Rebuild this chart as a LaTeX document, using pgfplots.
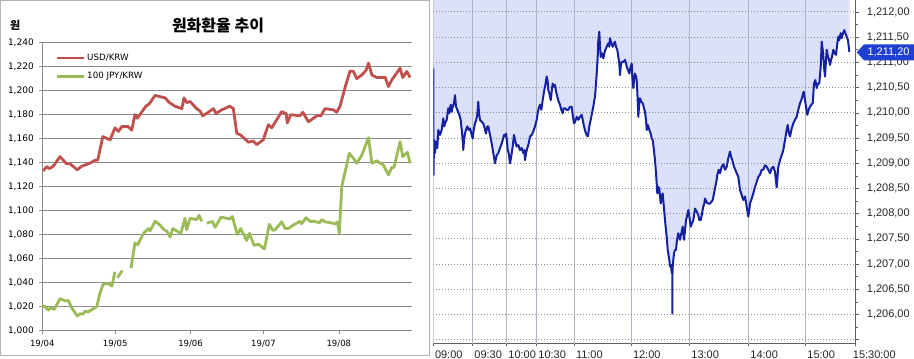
\documentclass[border=0pt]{standalone}
\usepackage{pgfplots}
\usepackage{pgfplotstable}
\pgfplotsset{compat=1.18}
\usepgfplotslibrary{fillbetween}
\usepackage{fontspec}
\setmainfont{Liberation Sans}
\newfontfamily\dv{DejaVu Sans}
\newfontfamily\kr{Noto Sans CJK KR}
\definecolor{usd}{HTML}{C0504D}
\definecolor{jpy}{HTML}{9BBB59}
\definecolor{lav}{HTML}{DCE0F8}
\definecolor{navy}{HTML}{1421A0}
\definecolor{vgrid}{HTML}{AEB6C4}
\definecolor{tagblue}{HTML}{1F3FD0}
\definecolor{lgrid}{HTML}{8A8A8A}
\definecolor{dgrid}{HTML}{8C8C8C}
\pgfplotstableread[row sep=\\]{
x y\\
0.0 1210.88\\ 0.2 1208.77\\ 0.7 1209.46\\ 1.7 1209.2\\ 2.7 1209.43\\ 4.0 1209.30\\ 5.0 1209.66\\ 6.7 1209.56\\ 8.4 1209.66\\ 10.0 1209.89\\ 11.0 1209.73\\ 11.7 1209.79\\ 13.4 1209.86\\ 15.0 1210.09\\ 16.0 1209.99\\ 17.4 1210.16\\ 18.4 1210.02\\ 19.4 1210.12\\ 20.7 1210.19\\ 21.7 1210.35\\ 22.7 1210.12\\ 23.4 1210.09\\ 24.7 1210.02\\ 26.0 1209.96\\ 27.4 1209.86\\ 28.4 1209.66\\ 29.4 1209.46\\ 30.0 1209.26\\ 30.7 1209.46\\ 31.7 1209.59\\ 32.7 1209.66\\ 34.0 1209.73\\ 35.4 1209.66\\ 36.7 1209.69\\ 38.0 1209.59\\ 39.4 1209.49\\ 40.4 1209.66\\ 41.7 1209.79\\ 43.0 1209.86\\ 44.0 1209.96\\ 45.0 1210.22\\ 45.7 1209.99\\ 46.7 1209.86\\ 48.4 1209.82\\ 50.0 1209.79\\ 51.4 1209.69\\ 52.7 1209.59\\ 54.0 1209.73\\ 55.0 1209.73\\ 56.7 1209.56\\ 58.4 1209.39\\ 60.0 1209.20\\ 61.7 1209.00\\ 63.4 1209.16\\ 65.0 1209.20\\ 66.7 1209.30\\ 68.4 1209.39\\ 69.4 1209.46\\ 70.7 1209.56\\ 71.7 1209.53\\ 72.7 1209.59\\ 73.7 1209.43\\ 74.4 1209.26\\ 75.4 1209.20\\ 76.7 1209.00\\ 77.7 1209.10\\ 78.4 1209.20\\ 79.4 1209.33\\ 80.7 1209.56\\ 82.0 1209.43\\ 83.4 1209.33\\ 85.0 1209.36\\ 86.7 1209.26\\ 88.4 1209.30\\ 90.0 1209.20\\ 91.0 1209.26\\ 91.7 1209.06\\ 92.7 1209.20\\ 94.0 1209.30\\ 95.4 1209.39\\ 96.7 1209.53\\ 98.4 1209.56\\ 100.0 1209.63\\ 101.7 1209.73\\ 103.4 1209.86\\ 104.4 1209.99\\ 105.4 1210.09\\ 106.7 1210.16\\ 108.0 1210.06\\ 109.4 1210.25\\ 110.7 1210.42\\ 112.0 1210.55\\ 113.4 1210.72\\ 114.4 1210.62\\ 115.0 1210.45\\ 116.0 1210.39\\ 117.4 1210.25\\ 118.4 1210.42\\ 119.4 1210.58\\ 120.7 1210.52\\ 121.7 1210.55\\ 122.7 1210.42\\ 124.0 1210.32\\ 125.4 1210.22\\ 126.7 1210.16\\ 128.0 1210.06\\ 129.4 1209.99\\ 130.4 1210.09\\ 131.7 1210.09\\ 133.4 1210.06\\ 135.0 1210.06\\ 136.7 1210.12\\ 138.4 1210.12\\ 139.4 1209.96\\ 140.7 1209.79\\ 141.7 1209.82\\ 143.4 1209.92\\ 145.0 1209.86\\ 146.7 1209.92\\ 148.4 1209.96\\ 149.4 1209.86\\ 150.7 1209.73\\ 152.0 1209.63\\ 153.4 1209.56\\ 154.4 1209.53\\ 155.0 1209.59\\ 156.0 1209.73\\ 157.4 1209.86\\ 158.7 1209.99\\ 160.0 1210.12\\ 161.0 1210.25\\ 161.7 1210.32\\ 162.7 1210.58\\ 163.4 1210.78\\ 164.4 1211.11\\ 165.0 1211.44\\ 166.0 1211.61\\ 166.7 1211.31\\ 167.4 1211.11\\ 168.7 1211.18\\ 170.0 1211.08\\ 171.4 1211.21\\ 172.7 1211.28\\ 174.0 1211.34\\ 175.0 1211.38\\ 176.0 1211.31\\ 176.7 1211.48\\ 178.0 1211.38\\ 179.4 1211.31\\ 180.7 1211.38\\ 181.7 1211.41\\ 182.7 1211.31\\ 184.0 1211.25\\ 185.0 1211.11\\ 186.0 1210.98\\ 186.7 1210.75\\ 187.4 1210.92\\ 188.4 1211.01\\ 190.0 1211.01\\ 191.7 1211.05\\ 192.7 1210.98\\ 193.4 1210.92\\ 194.7 1210.85\\ 196.0 1210.78\\ 197.0 1210.88\\ 198.4 1210.98\\ 199.0 1210.72\\ 200.0 1210.49\\ 201.0 1210.68\\ 201.7 1210.78\\ 202.7 1210.72\\ 203.4 1210.65\\ 204.4 1210.25\\ 205.0 1209.92\\ 205.7 1210.12\\ 206.7 1210.29\\ 208.0 1210.22\\ 209.4 1210.19\\ 210.7 1210.09\\ 211.7 1210.02\\ 212.7 1209.86\\ 213.4 1209.66\\ 214.4 1209.76\\ 215.0 1209.73\\ 216.0 1209.66\\ 217.4 1209.59\\ 218.4 1209.49\\ 219.4 1209.46\\ 220.4 1209.30\\ 221.7 1209.06\\ 222.7 1208.80\\ 223.4 1208.60\\ 224.0 1208.40\\ 225.0 1208.53\\ 226.0 1208.50\\ 226.7 1208.34\\ 227.4 1208.20\\ 228.4 1208.34\\ 229.4 1208.40\\ 230.4 1208.17\\ 231.7 1207.87\\ 232.7 1207.67\\ 233.4 1207.54\\ 234.4 1207.28\\ 235.0 1207.21\\ 236.0 1207.08\\ 236.7 1206.95\\ 237.7 1206.98\\ 238.4 1206.82\\ 239.0 1206.82\\ 239.1 1206.02\\ 239.2 1206.90\\ 240.0 1207.08\\ 240.7 1207.21\\ 241.7 1207.28\\ 242.7 1207.28\\ 243.7 1207.48\\ 245.0 1207.61\\ 246.0 1207.54\\ 246.7 1207.48\\ 248.0 1207.61\\ 249.4 1207.74\\ 250.0 1207.61\\ 250.7 1207.48\\ 251.7 1207.67\\ 252.7 1207.87\\ 254.0 1207.97\\ 255.0 1208.07\\ 256.0 1207.94\\ 257.4 1207.74\\ 258.7 1207.81\\ 260.0 1207.87\\ 261.0 1208.00\\ 261.7 1208.10\\ 263.4 1208.04\\ 265.0 1207.97\\ 266.0 1207.87\\ 267.4 1207.87\\ 268.7 1208.00\\ 270.0 1208.14\\ 271.0 1208.20\\ 271.7 1208.30\\ 273.4 1208.22\\ 275.0 1208.20\\ 276.7 1208.20\\ 278.4 1208.24\\ 279.4 1208.27\\ 280.7 1208.40\\ 282.0 1208.53\\ 283.4 1208.67\\ 284.0 1208.77\\ 285.4 1208.87\\ 286.7 1208.80\\ 288.4 1208.93\\ 290.0 1208.98\\ 291.7 1208.87\\ 293.4 1208.93\\ 295.0 1209.10\\ 296.7 1209.23\\ 297.7 1209.13\\ 299.0 1209.06\\ 300.7 1208.93\\ 302.0 1208.87\\ 303.4 1208.80\\ 305.0 1208.73\\ 306.7 1208.47\\ 308.4 1208.37\\ 310.0 1208.27\\ 311.7 1208.34\\ 313.4 1208.14\\ 315.0 1207.94\\ 316.0 1208.07\\ 316.7 1208.20\\ 318.4 1208.30\\ 320.0 1208.40\\ 321.7 1208.53\\ 323.4 1208.63\\ 325.0 1208.73\\ 326.7 1208.77\\ 328.4 1208.87\\ 330.0 1208.87\\ 331.7 1208.96\\ 333.4 1208.93\\ 335.0 1208.87\\ 336.7 1208.80\\ 338.4 1208.90\\ 340.0 1208.93\\ 341.7 1208.83\\ 343.4 1208.52\\ 345.0 1208.93\\ 346.7 1209.06\\ 348.4 1209.16\\ 350.0 1209.26\\ 351.7 1209.46\\ 353.4 1209.66\\ 354.4 1209.76\\ 355.7 1209.59\\ 356.7 1209.53\\ 358.4 1209.69\\ 360.0 1209.79\\ 361.7 1209.86\\ 363.4 1209.92\\ 365.0 1210.06\\ 366.7 1210.19\\ 368.0 1210.25\\ 369.4 1210.35\\ 370.4 1210.42\\ 371.7 1210.25\\ 372.7 1210.12\\ 374.0 1209.96\\ 375.4 1210.06\\ 376.7 1210.12\\ 378.0 1210.16\\ 379.4 1210.19\\ 380.7 1210.58\\ 382.0 1210.65\\ 383.4 1210.49\\ 384.7 1210.58\\ 386.0 1210.58\\ 387.4 1210.91\\ 388.4 1211.41\\ 389.4 1211.25\\ 390.0 1211.11\\ 391.0 1210.85\\ 391.7 1210.72\\ 392.7 1211.05\\ 393.4 1211.25\\ 394.7 1211.11\\ 395.7 1211.05\\ 396.7 1210.95\\ 397.7 1211.05\\ 398.7 1211.11\\ 400.0 1211.25\\ 401.4 1211.18\\ 402.7 1211.15\\ 404.0 1211.38\\ 405.0 1211.51\\ 406.0 1211.44\\ 407.4 1211.58\\ 408.4 1211.48\\ 409.7 1211.58\\ 411.0 1211.64\\ 412.0 1211.58\\ 413.4 1211.51\\ 414.7 1211.44\\ 416.0 1211.21\\
}\intraday
\begin{document}
\begin{tikzpicture}
\draw[gray!60, line width=0.8bp] (0.5bp,4bp) rectangle (429bp,358.6bp);
\node[font=\kr\bfseries\fontsize{16bp}{18bp}\selectfont] at (218bp,334bp) {원화환율 추이};
\node[font=\kr\bfseries\fontsize{11bp}{12bp}\selectfont] at (15.3bp,334bp) {원};
\begin{axis}[
  at={(42.3bp,28.5bp)}, anchor=south west,
  scale only axis, width=369.7bp, height=287.8bp,
  xmin=0, xmax=152.1, ymin=1000, ymax=1240,
  axis x line*=bottom, axis y line*=left,
  axis line style={draw=lgrid, line width=0.8bp},
  ymajorgrids, y grid style={lgrid, line width=0.8bp},
  xtick={0,30,61,91,122},
  xticklabels={19/04,19/05,19/06,19/07,19/08},
  ytick={1000,1020,1040,1060,1080,1100,1120,1140,1160,1180,1200,1220,1240},
  yticklabels={{1,000},{1,020},{1,040},{1,060},{1,080},{1,100},{1,120},{1,140},{1,160},{1,180},{1,200},{1,220},{1,240}},
  tick align=outside, major tick length=3bp,
  tick style={lgrid, line width=0.6bp},
  xticklabel style={font=\dv\fontsize{8.5bp}{10bp}\selectfont, yshift=-3bp},
  yticklabel style={font=\dv\fontsize{9bp}{10bp}\selectfont, anchor=east, xshift=-2bp},
  unbounded coords=jump,
  legend style={at={(0.035,0.968)}, anchor=north west, draw=none, fill=none,
    font=\dv\fontsize{8.7bp}{10bp}\selectfont, row sep=6.5bp, inner sep=0pt},
  legend cell align=left,
  legend image code/.code={\draw[#1, line width=2.8bp] (0bp,0bp) -- (27bp,0bp);},
]
\addplot[usd, line width=2.8bp, line join=round] coordinates {
(0.4,1133)(1.8,1136.7)(2.9,1135)(4.5,1137)(7.3,1145)(10.0,1139)(11.4,1139)(14.4,1134)(16.2,1137)(19.6,1139.5)(21.7,1142)(22.8,1142)(24.9,1161.7)(27.9,1159)(29.9,1169)(31.3,1166)(32.7,1170)(35.4,1170)(36.8,1167)(38.1,1180)(39.1,1177)(42.6,1187)(44.0,1189)(46.4,1196)(48.4,1195)(50.5,1194)(52.3,1190)(54.6,1187)(57.4,1185)(58.3,1194)(59.4,1190)(60.8,1191)(63.5,1185)(64.9,1183)(66.0,1179)(68.3,1182)(70.4,1185)(71.5,1181)(73.8,1184)(77.2,1187)(78.6,1185)(80.0,1164.5)(81.6,1163)(84.8,1157)(86.8,1158)(88.2,1155)(90.9,1159)(93.0,1171.6)(94.4,1169)(96.5,1176)(98.5,1182.5)(100.3,1181)(100.8,1173)(102.2,1180)(106.0,1179)(107.2,1182)(109.5,1174)(112.9,1179)(114.6,1179)(116.3,1185)(119.8,1184)(121.1,1182)(122.5,1187)(124.6,1203)(126.6,1216.4)(128.0,1216)(129.4,1210)(131.4,1213)(133.2,1217)(134.2,1223)(135.6,1213)(137.6,1211)(141.1,1211)(142.4,1203.4)(143.8,1209)(147.2,1218.7)(148.3,1211)(150.0,1216)(151.3,1211)
};
\addlegendentry{USD/KRW}
\addplot[jpy, line width=2.8bp, line join=round] coordinates {
(0,1020.3)(1.1,1020)(2.5,1017)(3.5,1019)(4.9,1017.5)(7.3,1026.7)(9.3,1024.7)(10.7,1025)(12.1,1019)(14.4,1012)(15.5,1014)(16.6,1013.6)(17.6,1016)(18.9,1015.5)(22.4,1020)(23.7,1031)(25.1,1039)(27.2,1039)(28.6,1037)(29.9,1049)
(30.4,nan)
(30.9,1044)(32.9,1050)
(34.5,nan)
(36.5,1052)(38.1,1073)(39.3,1071.5)(41.6,1081)(43.6,1085)(44.3,1083)(46.4,1091)(48.4,1088)(50.1,1084)(51.2,1083)(52.6,1078)(53.7,1085)(55.3,1083)(57.0,1081)(58.7,1093.5)(59.4,1084)(60.8,1093.5)(63.5,1092.5)(64.5,1096)(65.6,1091)
(66.6,nan)
(67.7,1089.5)(70.0,1091)(71.1,1086)(73.5,1094.5)(74.8,1094)(77.2,1093)(78.2,1095)(80.2,1080)(81.6,1085)(84.1,1075)(85.2,1081)(87.1,1071)(88.9,1072)(91.4,1068)(93.4,1088.6)(94.8,1083.6)(95.8,1084)(98.5,1090.6)(99.9,1085)(101.2,1085)(103.3,1088)(106.0,1091)(106.7,1089)(108.5,1094)(110.2,1091)(112.2,1091)(114.0,1089.7)(115.0,1092.5)(116.3,1090.6)(118.4,1090)(120.4,1089)(121.4,1090.6)(122.2,1081)(123.2,1120)(126.3,1147.8)(128.0,1143.6)(129.4,1139.5)(131.4,1146)(134.2,1160.8)(135.6,1139.5)(137.6,1141.4)(140.3,1138)(142.4,1129.8)(143.8,1136)(144.7,1136)(147.2,1157.5)(148.3,1145)(150.2,1148.7)(151.3,1139.5)
};
\addlegendentry{100 JPY/KRW}
\end{axis}

\begin{axis}[
  at={(433.3bp,15.7bp)}, anchor=south west,
  scale only axis, width=422.4bp, height=343.3bp,
  xmin=0, xmax=422.4, ymin=1205.427, ymax=1212.238,
  axis x line*=bottom, axis y line*=right,
  axis line style={draw=gray!75!black, line width=0.8bp},
  xtick={0,39.4,73.4,103.4,141,198,256.4,315.4,372.4,422.4},
  xticklabels={09:00,09:30,10:00,10:30,11:00,12:00,13:00,14:00,15:00,\hspace*{-4.5bp}15:30:00},
  ytick={1205.5,1206,1206.5,1207,1207.5,1208,1208.5,1209,1209.5,1210,1210.5,1211,1211.5,1212},
  yticklabels={{},{1,206,00},{1,206,50},{1,207,00},{1,207,50},{1,208,00},{1,208,50},{1,209,00},{1,209,50},{1,210,00},{1,210,50},{1,211,00},{1,211,50},{1,212,00}},
  minor ytick={1205.75,1206.25,1206.75,1207.25,1207.75,1208.25,1208.75,1209.25,1209.75,1210.25,1210.75,1211.25,1211.75},
  tick align=outside, major tick length=3bp, minor tick length=2bp,
  tick style={gray!75!black, line width=0.6bp},
  xticklabel style={font=\fontsize{11bp}{12bp}\selectfont, anchor=north west, inner sep=0pt, xshift=1.5bp, yshift=-4bp, text=black!85},
  yticklabel style={font=\fontsize{11bp}{12bp}\selectfont, anchor=west, inner sep=0pt, xshift=8bp, text=black!85},
  unbounded coords=jump,
]
\addplot[draw=none, name path=line] table[x=x,y=y] {\intraday};
\addplot[draw=none, name path=top] coordinates {(0,1212.3)(416,1212.3)};
\addplot[lav] fill between[of=line and top];
\addplot[vgrid, line width=0.9bp] coordinates {
(0,1205.3)(0,1212.3)(0,nan)
(39.4,1205.3)(39.4,1212.3)(39.4,nan)
(73.4,1205.3)(73.4,1212.3)(73.4,nan)
(103.4,1205.3)(103.4,1212.3)(103.4,nan)
(141,1205.3)(141,1212.3)(141,nan)
(198,1205.3)(198,1212.3)(198,nan)
(256.4,1205.3)(256.4,1212.3)(256.4,nan)
(315.4,1205.3)(315.4,1212.3)(315.4,nan)
(372.4,1205.3)(372.4,1212.3)
};
\addplot[dgrid, line width=1bp, dash pattern=on 1bp off 2bp] coordinates {
(0,1205.5)(422.4,1205.5)(422.4,nan)
(0,1206)(422.4,1206)(422.4,nan)
(0,1206.5)(422.4,1206.5)(422.4,nan)
(0,1207)(422.4,1207)(422.4,nan)
(0,1207.5)(422.4,1207.5)(422.4,nan)
(0,1208)(422.4,1208)(422.4,nan)
(0,1208.5)(422.4,1208.5)(422.4,nan)
(0,1209)(422.4,1209)(422.4,nan)
(0,1209.5)(422.4,1209.5)(422.4,nan)
(0,1210)(422.4,1210)(422.4,nan)
(0,1210.5)(422.4,1210.5)(422.4,nan)
(0,1211)(422.4,1211)(422.4,nan)
(0,1211.5)(422.4,1211.5)(422.4,nan)
(0,1212)(422.4,1212)
};
\addplot[navy, line width=2bp, line join=round] table[x=x,y=y] {\intraday};
\end{axis}
\fill[tagblue] (856.8bp,306.7bp) -- (864bp,314.7bp) -- (914bp,314.7bp) -- (914bp,298.7bp) -- (864bp,298.7bp) -- cycle;
\node[white, font=\fontsize{11bp}{12bp}\selectfont] at (888.5bp,306.5bp) {1,211,20};
\pgfresetboundingbox
\useasboundingbox (0,0) rectangle (914bp,359bp);
\end{tikzpicture}
\end{document}
